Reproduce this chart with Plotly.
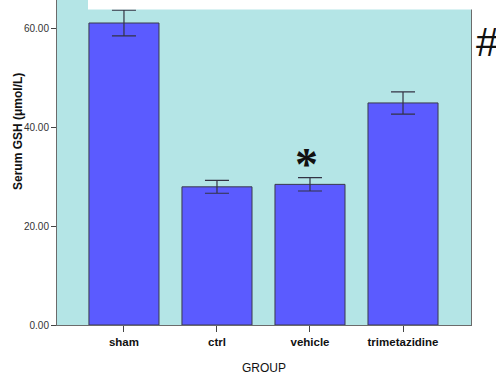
import plotly.graph_objects as go

groups = ["sham", "ctrl", "vehicle", "trimetazidine"]
gsh_mean = [61.2, 28.0, 28.5, 45.0]
gsh_err = [2.6, 1.3, 1.35, 2.25]
y_ticks = [0, 20, 40, 60]
y_tick_text = ["0.00", "20.00", "40.00", "60.00"]

BG = "#b4e5e6"
BAR = "#5b5bff"
AX = "#6b6b6b"

fig = go.Figure()
fig.add_trace(go.Bar(
    x=groups, y=gsh_mean, width=0.753,
    marker=dict(color=BAR, line=dict(color="#3a3a4a", width=1)),
    error_y=dict(type="data", array=gsh_err, visible=True,
                 color="#333344", thickness=1.2, width=12),
))

fig.update_layout(
    width=496, height=376,
    margin=dict(l=57, r=25, t=0, b=51),
    paper_bgcolor="white", plot_bgcolor=BG,
    showlegend=False,
    font=dict(family="Liberation Sans, Arial, sans-serif", color="#222"),
)
fig.update_xaxes(
    range=[-0.72, 3.731], showgrid=False, zeroline=False,
    showline=True, linecolor=AX, linewidth=1, mirror=True,
    ticks="outside", ticklen=6, tickcolor="#444", tickwidth=1,
    tickfont=dict(family="Liberation Sans, Arial", size=11.5, color="#111", weight="bold"),
    title=dict(text="GROUP", font=dict(family="Liberation Sans, Arial", size=12, color="#111"), standoff=16),
)
fig.update_yaxes(
    range=[0, 65.86], showgrid=False, zeroline=False,
    showline=True, linecolor=AX, linewidth=1, mirror=True,
    tickmode="array", tickvals=y_ticks, ticktext=y_tick_text,
    ticks="outside", ticklen=5, tickcolor="#444", tickwidth=1,
    tickfont=dict(family="Liberation Sans Narrow, Arial Narrow, Arial", size=10, color="#333"),
)

# white patch at top of plot
fig.add_shape(type="rect", xref="paper", yref="paper",
              x0=(88 - 57) / 414, x1=1.003, y0=(325 - 9.5) / 325, y1=1.01,
              fillcolor="white", line=dict(width=0), layer="above")

# y-axis title
fig.add_annotation(text="<b>Serum GSH (μmol/L)</b>", xref="paper", yref="paper",
                   x=(18 - 57) / 414, y=(325 - 132) / 325, textangle=-90,
                   showarrow=False, font=dict(family="Liberation Sans, Arial", size=12, color="#111"),
                   xanchor="center", yanchor="middle")

# significance marks
fig.add_annotation(text="*", x=2, y=(325 - 161) / 4.935, xref="x", yref="y", xshift=-3, yshift=-3,
                   showarrow=False, font=dict(family="Liberation Serif", size=46, color="#111", weight="bold"),
                   yanchor="middle")
fig.add_annotation(text="#", xref="paper", yref="paper", x=(474 - 57) / 414, y=(325 - 42) / 325,
                   showarrow=False, font=dict(family="Liberation Sans, Arial", size=41, color="#111"),
                   xanchor="left", yanchor="middle")

fig.write_html("out.html", config={"displayModeBar": False},
               post_script="document.body.style.margin='0';document.body.style.overflow='hidden';")
